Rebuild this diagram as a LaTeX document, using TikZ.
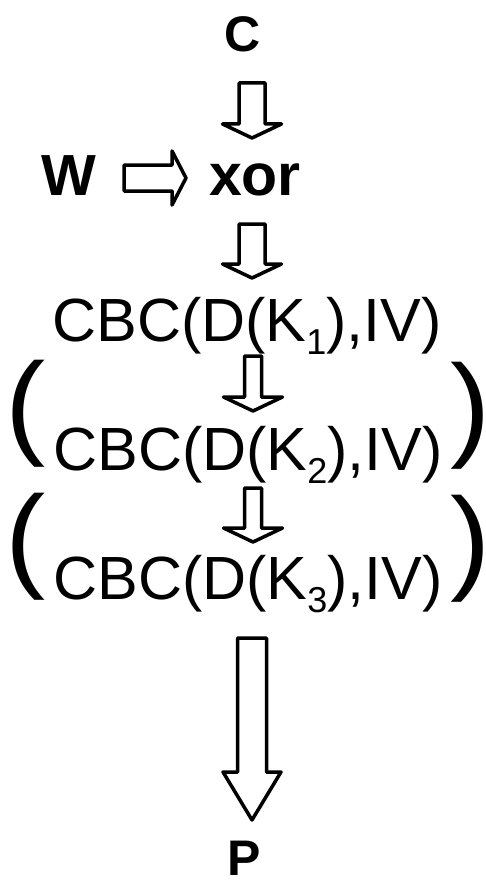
\documentclass[tikz,border=0pt]{standalone}
\usepackage{fontspec}
\setmainfont{Liberation Sans}
\usetikzlibrary{calc}
\tikzset{
  blk/.style={draw=black, line width=3.5pt, line join=round, fill=white},
  boldtxt/.style={inner sep=0pt, anchor=base, font=\bfseries\fontsize{#1}{#1}\selectfont},
  cbctxt/.style={inner sep=0pt, anchor=base, font=\fontsize{61}{61}\selectfont},
  bigparen/.style={inner sep=0pt, anchor=north, font=\fontsize{115}{115}\selectfont}
}
% vertical block arrow: #1 start, #2 tip, #3 shaft half width, #4 head half width, #5 head depth
\newcommand\blkdown[5]{%
  \draw[blk] let \p1=(#1), \p2=(#2) in
    (\x1-#3pt,\y1) -- (\x1+#3pt,\y1) -- (\x1+#3pt,\y2+#5pt) -- (\x1+#4pt,\y2+#5pt)
    -- (\x1,\y2) -- (\x1-#4pt,\y2+#5pt) -- (\x1-#3pt,\y2+#5pt) -- cycle;}
% horizontal block arrow (rightwards)
\newcommand\blkright[5]{%
  \draw[blk] let \p1=(#1), \p2=(#2) in
    (\x1,\y1+#3pt) -- (\x2-#5pt,\y1+#3pt) -- (\x2-#5pt,\y1+#4pt) -- (\x2,\y1)
    -- (\x2-#5pt,\y1-#4pt) -- (\x2-#5pt,\y1-#3pt) -- (\x1,\y1-#3pt) -- cycle;}
\newcommand\subdig[1]{\raisebox{-13pt}{\fontsize{36}{36}\selectfont #1}}
\newcommand\leftbig{\makebox[0.28em][r]{\scalebox{1.05}[1]{(}}}
\newcommand\rightbig{\makebox[0.28em][l]{\scalebox{1.05}[1]{)}}}
\begin{document}
\begin{tikzpicture}[x=1pt,y=-1pt]
\useasboundingbox (0,0) rectangle (485,880);
% text nodes
\node[boldtxt=50] (C) at (243,52) {C};
\node[boldtxt=58] (W) at (68.5,195) {W};
\node[boldtxt=59] (xor) at (255,195) {xor};
\node[cbctxt] (cbc1) at (247,341) {CBC(D(K\subdig{1}),IV)};
\node[cbctxt] (cbc2) at (248,470) {CBC(D(K\subdig{2}),IV)};
\node[cbctxt] (cbc3) at (248,599) {CBC(D(K\subdig{3}),IV)};
\node[boldtxt=50] (P) at (244,875) {P};
% big parentheses
\node[bigparen] (lp1) at (30,360) {\leftbig};
\node[bigparen] (rp1) at (467,362) {\rightbig};
\node[bigparen] (lp2) at (30,493) {\leftbig};
\node[bigparen] (rp2) at (467,495) {\rightbig};
% arrow end points
\coordinate (a1s) at (252,83);  \coordinate (a1e) at (252,138);
\coordinate (a2s) at (252,224); \coordinate (a2e) at (252,278);
\coordinate (a3s) at (253,356); \coordinate (a3e) at (253,411);
\coordinate (a4s) at (253,488); \coordinate (a4e) at (253,542);
\coordinate (a5s) at (252,638); \coordinate (a5e) at (252,820);
\coordinate (hws) at (124,178); \coordinate (hwe) at (186,178);
% arrows
\blkdown{a1s}{a1e}{13}{29.5}{14}
\blkdown{a2s}{a2e}{13}{29.5}{14}
\blkdown{a3s}{a3e}{8.5}{29.5}{14}
\blkdown{a4s}{a4e}{8.5}{29.5}{14}
\blkdown{a5s}{a5e}{14.5}{29}{48}
\blkright{hws}{hwe}{13}{27}{14}
\end{tikzpicture}
\end{document}
